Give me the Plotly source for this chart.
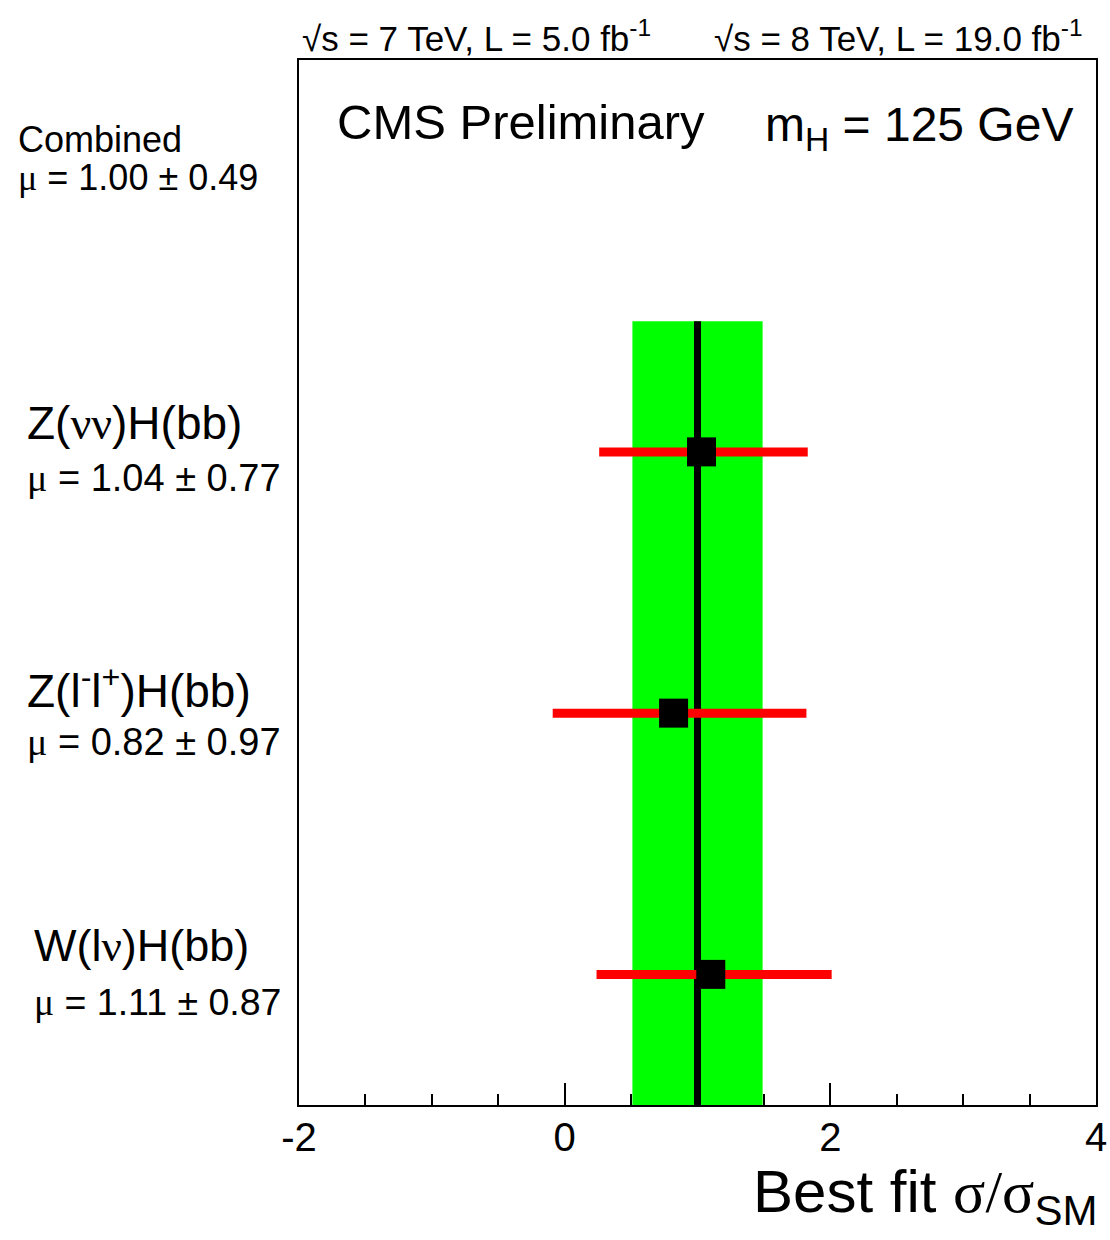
import plotly.graph_objects as go

# ---- data ----
channels = ["W(lν)H(bb)", "Z(l⁻l⁺)H(bb)", "Z(νν)H(bb)"]
ypos = [0.5, 1.5, 2.5]
mu = [1.10, 0.82, 1.03]
err_lo = [0.86, 0.91, 0.77]
err_hi = [0.91, 1.00, 0.80]
mu_labels = ["1.11", "0.82", "1.04"]
err_labels = ["0.87", "0.97", "0.77"]
comb_mu = 1.00
comb_err = 0.49
band_top = 3.0
x_range = [-2, 4]
y_range = [0, 4]
x_tickvals = [-2, 0, 2, 4]
x_ticktext = ["-2", "0", "2", "4"]

SANS = "Liberation Sans, Arial, Helvetica, sans-serif"
SERIF = "Liberation Serif, Times New Roman, serif"

def ser(t):
    return f"<span style='font-family:{SERIF}'>{t}</span>"

fig = go.Figure()

# combined line
fig.add_trace(go.Scatter(x=[comb_mu, comb_mu], y=[0, band_top], mode="lines",
                         line=dict(color="black", width=7), hoverinfo="skip", showlegend=False))

# channel points with error bars
fig.add_trace(go.Scatter(
    x=mu, y=ypos, mode="markers",
    marker=dict(symbol="square", size=29, color="black", line=dict(width=0)),
    error_x=dict(type="data", symmetric=False, array=err_hi, arrayminus=err_lo,
                 color="#ff0000", thickness=9, width=0),
    showlegend=False))

shapes = [dict(type="rect", xref="x", yref="y", x0=comb_mu - comb_err, x1=comb_mu + comb_err,
               y0=0, y1=band_top, fillcolor="#00ff00", line=dict(width=0), layer="below")]

# body margin removed via post_script -> figure at (0,0), full window
W, H = 1110, 1240
L, R, T, B = 299, 14, 60, 135
pw, ph = W - L - R, H - T - B
PL, PB = 299, 1105  # plot-area left / bottom in page pixels

def px(x):
    return (x - PL) / pw

def py(y):
    return (PB - y) / ph

ann = []
def add(text, x, y, size, xanchor="left", yanchor="middle"):
    ann.append(dict(text=text, x=px(x), y=py(y), xref="paper", yref="paper",
                    xanchor=xanchor, yanchor=yanchor, showarrow=False, borderpad=0,
                    font=dict(family=SANS, size=size, color="black")))

add("√s = 7 TeV, L = 5.0 fb<sup>-1</sup>", 301, 36, 35)
add("√s = 8 TeV, L = 19.0 fb<sup>-1</sup>", 1084, 36, 35, xanchor="right")
add("CMS Preliminary", 336, 122, 49)
add("m<sub>H</sub> = 125 GeV", 1074, 128, 48, xanchor="right")

add("Combined", 17, 140, 36)
add(f"{ser('μ')} = {comb_mu:.2f} ± {comb_err:.2f}", 17, 178, 36)

label_y = {2.5: (423, 478, 25.5, 46, 38), 1.5: (688, 742, 25.5, 46, 38), 0.5: (945, 1002, 32.5, 45, 37.5)}
disp = {"Z(νν)H(bb)": f"Z({ser('νν')})H(bb)",
        "Z(l⁻l⁺)H(bb)": "Z(l<sup>-</sup>l<sup>+</sup>)H(bb)",
        "W(lν)H(bb)": f"W(l{ser('ν')})H(bb)"}
for ch, yp, ml, el in zip(channels, ypos, mu_labels, err_labels):
    y1, y2, x0, s1, s2 = label_y[yp]
    add(disp[ch], x0, y1, s1)
    add(f"{ser('μ')} = {ml} ± {el}", x0, y2, s2)

add(f"Best fit {ser('σ/σ')}<sub>SM</sub>", 1098, 1196, 60, xanchor="right")

fig.update_layout(
    width=W, height=H,
    margin=dict(l=L, r=R, t=T, b=B, pad=0, autoexpand=False),
    paper_bgcolor="white", plot_bgcolor="white",
    shapes=shapes, annotations=ann,
    xaxis=dict(range=x_range, tickmode="array", tickvals=x_tickvals, ticktext=x_ticktext,
               ticks="inside", ticklen=22, tickwidth=2, automargin=False,
               tickcolor="black", showline=True, linecolor="black", linewidth=2, mirror=True,
               showgrid=False, zeroline=False, ticklabelstandoff=-4, ticklabeloverflow="allow",
               tickfont=dict(family=SANS, size=40, color="black"),
               minor=dict(dtick=0.5, tick0=-2, ticks="inside", ticklen=11, tickwidth=2,
                          tickcolor="black", showgrid=False)),
    yaxis=dict(range=y_range, showticklabels=False, ticks="", showline=True, linecolor="black",
               linewidth=2, mirror=True, showgrid=False, zeroline=False, automargin=False),
)

fig.write_html("out.html", config={"displayModeBar": False},
               post_script="document.body.style.margin='0';document.body.style.overflow='hidden';")
